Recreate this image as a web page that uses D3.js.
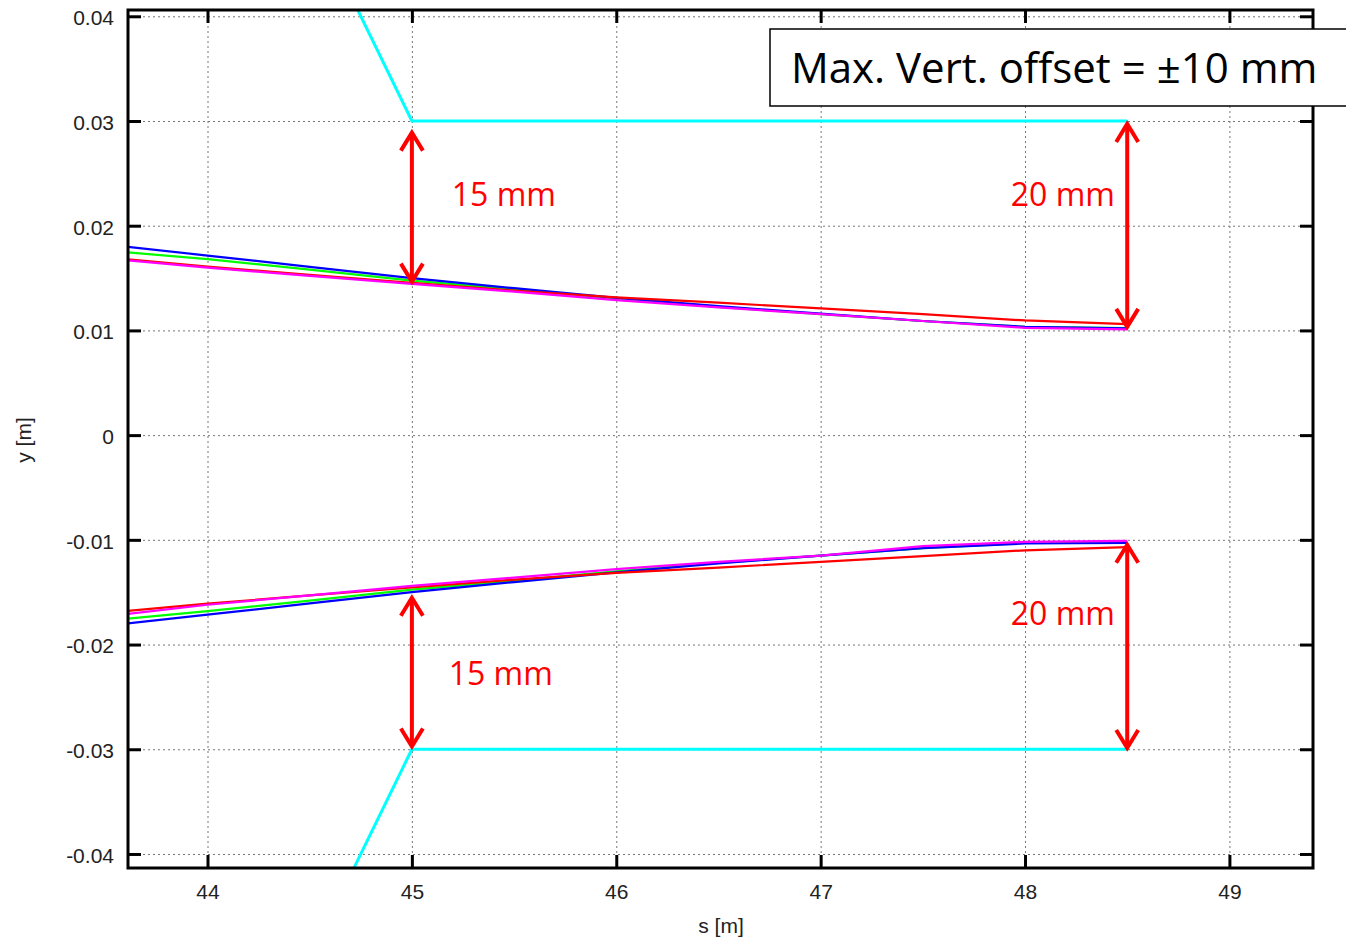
<!DOCTYPE html>
<html>
<head>
<meta charset="utf-8">
<script src="https://cdn.jsdelivr.net/npm/d3@7"></script>
<style>
  html, body { margin: 0; padding: 0; background: #fff; }
  svg { display: block; }
</style>
</head>
<body>
<svg id="chart" width="1346" height="940"></svg>
<script>
// ---------- data ----------
const sGrid = [43.6, 44, 44.5, 45, 45.5, 46, 46.5, 47, 47.5, 48, 48.5];

const upperBlue    = [0.0180, 0.01715, 0.01607, 0.0150, 0.01403, 0.0131, 0.01232, 0.0116, 0.0109, 0.01035, 0.0102];
const upperGreen   = [0.01747, 0.0168, 0.0158, 0.01475, 0.0139, 0.0130, 0.01225, 0.01155, 0.0109, 0.01035, 0.01022];
const upperRed     = [0.0168, 0.0161, 0.0153, 0.01455, 0.0138, 0.01315, 0.01265, 0.0121, 0.01155, 0.01095, 0.0106];
const upperMagenta = [0.0167, 0.0160, 0.0152, 0.01445, 0.0137, 0.0129, 0.0122, 0.01155, 0.0109, 0.01025, 0.0101];

const lowerBlue    = [-0.0180, -0.01715, -0.01607, -0.0150, -0.01403, -0.0131, -0.01225, -0.0115, -0.0108, -0.01035, -0.0103];
const lowerGreen   = [-0.01754, -0.0168, -0.0158, -0.01475, -0.0139, -0.0130, -0.0122, -0.0115, -0.0108, -0.0103, -0.0102];
const lowerRed     = [-0.0168, -0.0161, -0.0153, -0.01455, -0.0138, -0.01315, -0.01265, -0.0121, -0.01155, -0.0110, -0.0107];
const lowerMagenta = [-0.0171, -0.0162, -0.0153, -0.0144, -0.0136, -0.0128, -0.0121, -0.0115, -0.0106, -0.0102, -0.0101];

// aperture (cyan)
const apertureS     = [44.5, 45, 48.5];
const apertureUpper = [0.050, 0.030, 0.030];
const apertureLower = [-0.050, -0.030, -0.030];

// axes
const xTicks = [44, 45, 46, 47, 48, 49];
const xTickLabels = ["44", "45", "46", "47", "48", "49"];
const yTicks = [-0.04, -0.03, -0.02, -0.01, 0, 0.01, 0.02, 0.03, 0.04];
const yTickLabels = ["-0.04", "-0.03", "-0.02", "-0.01", "0", "0.01", "0.02", "0.03", "0.04"];
const xDomain = [43.611, 49.409];
const yDomain = [-0.04134, 0.0406];

// annotations (double arrows, in data coordinates)
const arrowS    = [45, 48.5, 45, 48.5];
const arrowFrom = [0.02889, 0.02972, -0.02973, -0.02988];
const arrowTo   = [0.01466, 0.01034, -0.01553, -0.01047];
const noteTexts = ["15 mm", "20 mm", "15 mm", "20 mm"];
const noteS     = [45.195, 47.93, 45.18, 47.93];
const noteY     = [0.02187, 0.02187, -0.02391, -0.01817];
const boxText   = "Max. Vert. offset = \u00B110 mm";

// ---------- layout ----------
const svg = d3.select("#chart");
const L = 128, T = 10, R = 1313, B = 868;
const x = d3.scaleLinear().domain(xDomain).range([L, R]);
const y = d3.scaleLinear().domain(yDomain).range([B, T]);

const tickFont = "'Liberation Sans', Arial, Helvetica, sans-serif";

svg.append("defs").append("clipPath").attr("id", "clip")
  .append("rect").attr("x", L).attr("y", T).attr("width", R - L).attr("height", B - T);

// grid
const gridX = svg.append("g").attr("transform", `translate(0,${B})`)
  .call(d3.axisBottom(x).tickValues(xTicks).tickSize(-(B - T)).tickFormat(""));
const gridY = svg.append("g").attr("transform", `translate(${L},0)`)
  .call(d3.axisLeft(y).tickValues(yTicks).tickSize(-(R - L)).tickFormat(""));
[gridX, gridY].forEach(g => {
  g.select(".domain").remove();
  g.selectAll("line").attr("stroke", "#777").attr("stroke-width", 1).attr("stroke-dasharray", "2,3");
});

// data lines
const line = d3.line().x(d => x(d[0])).y(d => y(d[1]));
const plot = svg.append("g").attr("clip-path", "url(#clip)");
function addSeries(vals, color, w) {
  plot.append("path").datum(sGrid.map((s, i) => [s, vals[i]]))
    .attr("d", line).attr("fill", "none").attr("stroke", color).attr("stroke-width", w)
    .attr("stroke-linejoin", "round");
}
[[upperGreen, "#00ff00"], [upperBlue, "#0000ff"], [upperRed, "#ff0000"], [upperMagenta, "#ff00ff"],
 [lowerGreen, "#00ff00"], [lowerBlue, "#0000ff"], [lowerRed, "#ff0000"], [lowerMagenta, "#ff00ff"]]
  .forEach(([v, c]) => addSeries(v, c, 2.2));

[apertureUpper, apertureLower].forEach(v => {
  plot.append("path").datum(apertureS.map((s, i) => [s, v[i]]))
    .attr("d", line).attr("fill", "none").attr("stroke", "#00ffff").attr("stroke-width", 3);
});

// axes with inward ticks (mirrored)
function styleAxis(g) {
  g.select(".domain").remove();
  g.selectAll(".tick line").attr("stroke", "#000").attr("stroke-width", 3);
  g.selectAll("text").attr("font-family", tickFont).attr("font-size", 21).attr("fill", "#222");
}
const axB = svg.append("g").attr("transform", `translate(0,${B})`)
  .call(d3.axisBottom(x).tickValues(xTicks).tickSize(-13).tickPadding(16)
    .tickFormat((d, i) => xTickLabels[i]));
styleAxis(axB);
const axT = svg.append("g").attr("transform", `translate(0,${T})`)
  .call(d3.axisTop(x).tickValues(xTicks).tickSize(-13).tickFormat(""));
styleAxis(axT);
const axL = svg.append("g").attr("transform", `translate(${L},0)`)
  .call(d3.axisLeft(y).tickValues(yTicks).tickSize(-13).tickPadding(14)
    .tickFormat((d, i) => yTickLabels[i]));
styleAxis(axL);
axL.selectAll("text").attr("dy", "0.4em");
const axR = svg.append("g").attr("transform", `translate(${R},0)`)
  .call(d3.axisRight(y).tickValues(yTicks).tickSize(-13).tickFormat(""));
styleAxis(axR);

// frame
svg.append("rect").attr("x", L).attr("y", T).attr("width", R - L).attr("height", B - T)
  .attr("fill", "none").attr("stroke", "#000").attr("stroke-width", 3);

// axis titles
svg.append("text").attr("x", 721).attr("y", 933).attr("text-anchor", "middle")
  .attr("font-family", tickFont).attr("font-size", 21).attr("fill", "#222").text("s [m]");
svg.append("text").attr("transform", "translate(31,440) rotate(-90)").attr("text-anchor", "middle")
  .attr("font-family", tickFont).attr("font-size", 21).attr("fill", "#222").text("y [m]");

// arrows
const ann = svg.append("g");
const head = 11, headLen = 18;
arrowS.forEach((s, i) => {
  const px = x(s), p1 = y(arrowFrom[i]), p2 = y(arrowTo[i]);
  const dir = p2 > p1 ? 1 : -1;
  ann.append("line").attr("x1", px).attr("x2", px).attr("y1", p1 + dir * 1).attr("y2", p2 - dir * 1)
    .attr("stroke", "#ff0000").attr("stroke-width", 4);
  const hd = (tipY, d) => `M${px - head},${tipY + d * headLen}L${px},${tipY}L${px + head},${tipY + d * headLen}`;
  ann.append("path").attr("d", hd(p1, dir)).attr("fill", "none").attr("stroke", "#ff0000")
    .attr("stroke-width", 4).attr("stroke-linejoin", "miter");
  ann.append("path").attr("d", hd(p2, -dir)).attr("fill", "none").attr("stroke", "#ff0000")
    .attr("stroke-width", 4).attr("stroke-linejoin", "miter");
});
noteTexts.forEach((t, i) => {
  ann.append("text").attr("x", x(noteS[i])).attr("y", y(noteY[i]))
    .attr("font-family", "'Open Sans', 'Noto Sans', sans-serif").attr("font-size", 32)
    .attr("fill", "#ff0000").text(t);
});

// info box
const box = svg.append("g");
box.append("rect").attr("x", 770).attr("y", 29).attr("width", 600).attr("height", 77)
  .attr("fill", "#fff").attr("stroke", "#000").attr("stroke-width", 1.5);
box.append("text").attr("x", 791).attr("y", 83)
  .attr("font-family", "'Open Sans', 'Noto Sans', sans-serif").attr("font-size", 42)
  .attr("fill", "#000").text(boxText);
</script>
</body>
</html>
